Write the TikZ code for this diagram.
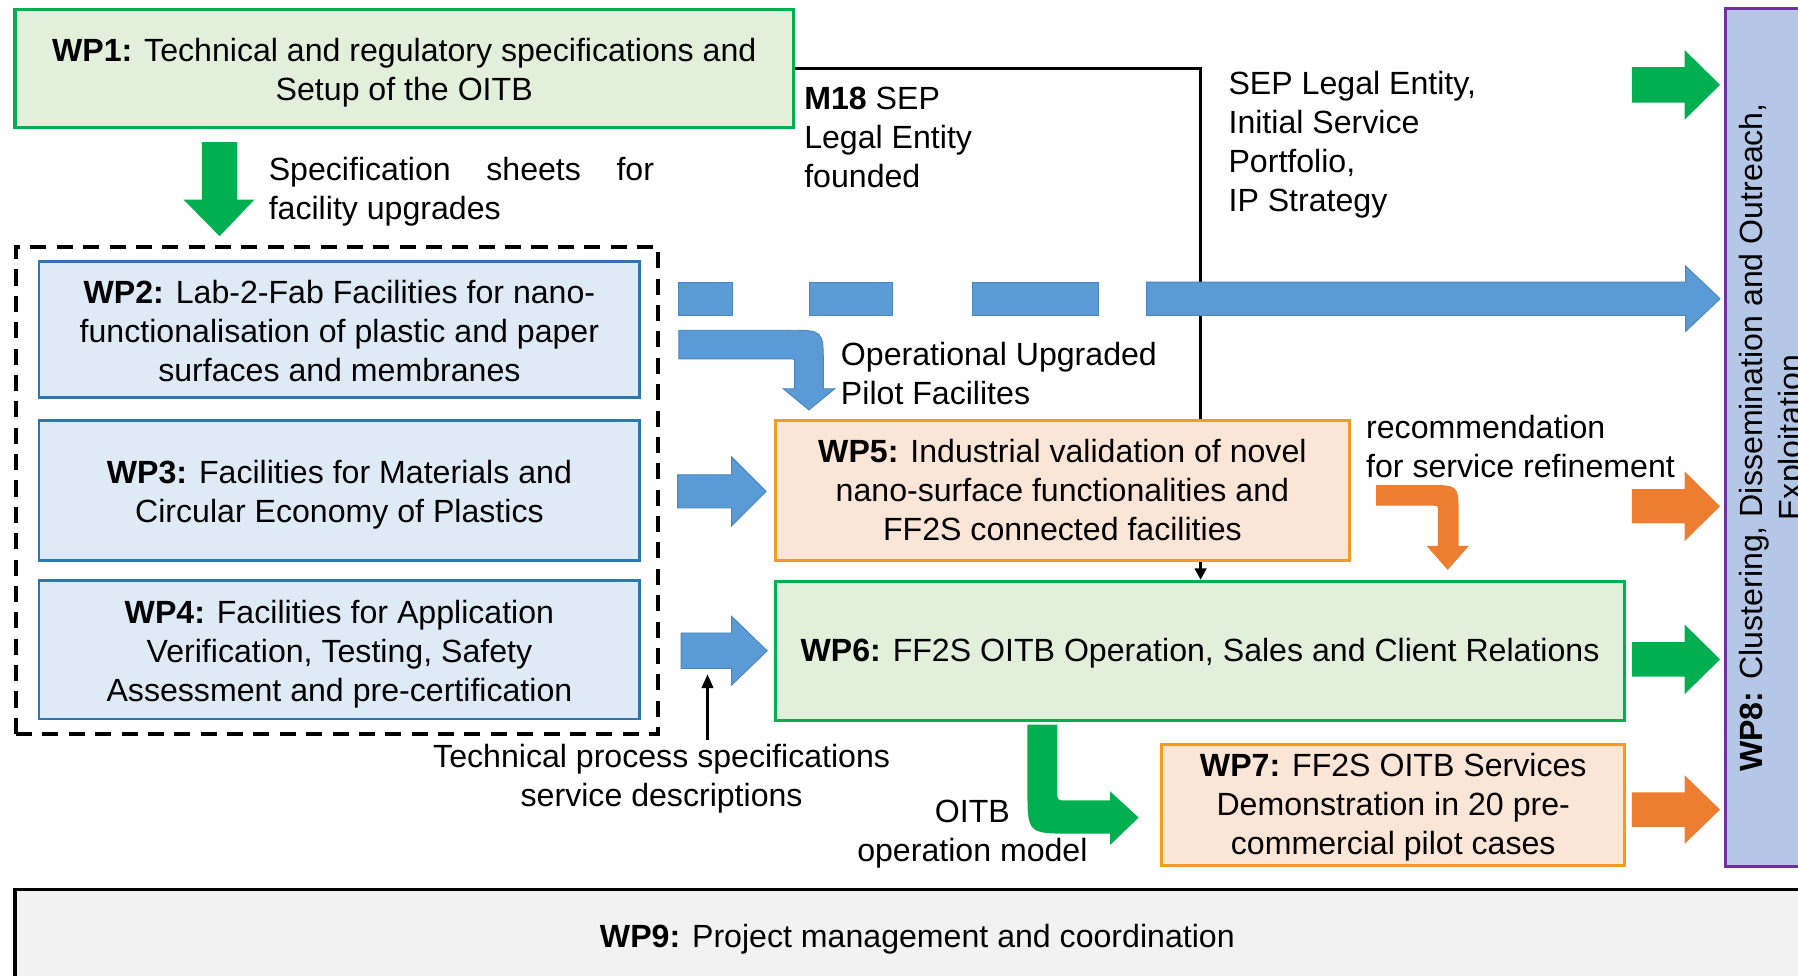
\documentclass[tikz,border=0pt]{standalone}
\usepackage{fontspec}
\setmainfont{Liberation Sans}
\usetikzlibrary{arrows.meta}
\definecolor{gBorder}{HTML}{00B050}
\definecolor{gFill}{HTML}{E2EFDA}
\definecolor{bBorder}{HTML}{2E75B6}
\definecolor{bFill}{HTML}{DEEBF7}
\definecolor{bArrow}{HTML}{5B9BD5}
\definecolor{bArrowLine}{HTML}{4A86C0}
\definecolor{oBorder}{HTML}{F59A23}
\definecolor{oFill}{HTML}{FBE5D6}
\definecolor{oArrow}{HTML}{ED7D31}
\definecolor{pBorder}{HTML}{7030A0}
\definecolor{pFill}{HTML}{B4C7E7}
\definecolor{grayFill}{HTML}{F2F2F2}
\newcommand{\RArrow}[7]{\path[#1] (#2,#5-#6) -- (#3,#5-#6) -- (#3,#5-#7) -- (#4,#5) -- (#3,#5+#7) -- (#3,#5+#6) -- (#2,#5+#6) -- cycle;}
\begin{document}
\begin{tikzpicture}[x=0.5pt,y=-0.5pt,
  every node/.style={font=\fontsize{14}{17}\selectfont, inner sep=0pt},
  wpbox/.style={draw, line width=1.4pt},
  greenbox/.style={wpbox, draw=gBorder, fill=gFill},
  bluebox/.style={wpbox, draw=bBorder, fill=bFill, line width=1.25pt},
  orangebox/.style={wpbox, draw=oBorder, fill=oFill, line width=1.25pt},
  purplebox/.style={wpbox, draw=pBorder, fill=pFill},
  graybox/.style={wpbox, draw=black, fill=grayFill},
  lbl/.style={align=left, anchor=west},
  clbl/.style={align=center},
  barrow/.style={fill=bArrow, draw=bArrowLine, line width=0.4pt},
  garrow/.style={fill=gBorder},
  oarrow/.style={fill=oArrow},
  conn/.style={draw=black, line width=1.3pt},
  thinconn/.style={draw=black, line width=1pt},
  groupbox/.style={draw=black, line width=1.5pt, dash pattern=on 7pt off 4.5pt},
]
\useasboundingbox (0,0) rectangle (1568,851);
\clip (0,0) rectangle (1568,851);

% WP9 and WP8 (partly outside the picture)
\node[graybox, minimum width=818.5pt, minimum height=62pt] (wp9) at (831.5,838) {};
\node[clbl] (wp9t) at (800,819) {\textbf{WP9:} Project management and coordination};
\node[purplebox, minimum width=47.5pt, minimum height=374pt] (wp8) at (1552.5,381.5) {};
\node[clbl, rotate=90] (wp8t) at (1547,381.5) {\textbf{WP8:} Clustering, Dissemination and Outreach,\\Exploitation};

% group box
\node[groupbox, minimum width=280pt, minimum height=212.25pt] (grp) at (294,427.75) {};

% WP boxes
\node[greenbox, minimum width=339.5pt, minimum height=51.5pt] (wp1) at (352.5,59.5) {};
\node[clbl] (wp1t) at (352.5,63) {\textbf{WP1:} Technical and regulatory specifications and\\Setup of the OITB};
\node[bluebox, minimum width=262pt, minimum height=59.5pt] (wp2) at (296,287.5) {};
\node[clbl] (wp2t) at (296,289) {\textbf{WP2:} Lab-2-Fab Facilities for nano-\\functionalisation of plastic and paper\\surfaces and membranes};
\node[bluebox, minimum width=262pt, minimum height=61pt] (wp3) at (296,428) {};
\node[clbl] (wp3t) at (296,431) {\textbf{WP3:} Facilities for Materials and\\Circular Economy of Plastics};
\node[bluebox, minimum width=262pt, minimum height=60.5pt] (wp4) at (296,566.5) {};
\node[clbl] (wp4t) at (296,570.5) {\textbf{WP4:} Facilities for Application\\Verification, Testing, Safety\\Assessment and pre-certification};
\node[orangebox, minimum width=250.5pt, minimum height=61pt] (wp5) at (926.5,428) {};
\node[clbl] (wp5t) at (926.5,427.5) {\textbf{WP5:} Industrial validation of novel\\nano-surface functionalities and\\FF2S connected facilities};
\node[greenbox, minimum width=370.5pt, minimum height=60.5pt] (wp6) at (1046.5,567.5) {};
\node[clbl] (wp6t) at (1046.5,569.5) {\textbf{WP6:} FF2S OITB Operation, Sales and Client Relations};
\node[orangebox, minimum width=202pt, minimum height=53pt] (wp7) at (1215,702) {};
\node[clbl] (wp7t) at (1215,704) {\textbf{WP7:} FF2S OITB Services\\Demonstration in 20 pre-\\commercial pilot cases};

% black connector WP1 -> WP6 (behind WP5)
\coordinate (corner) at (1047,59.5);
\draw[conn] (wp1.east) -- (corner) -- (corner |- wp5.north);
\draw[conn, -{Triangle[length=5pt,width=5pt]}] (corner |- wp5.south) -- (corner |- wp6.north);

% green down arrow WP1 -> group
\path[garrow] (176,124) -- (207,124) -- (207,174) -- (222,174) -- (191.5,206) -- (160,174) -- (176,174) -- cycle;

% long dashed blue arrow to WP8
\path[barrow] (592,246) rectangle (639,275);
\path[barrow] (706,246) rectangle (778,275);
\path[barrow] (848,246) rectangle (958,275);
\RArrow{barrow}{1000}{1470}{1500}{260.5}{14.5}{28.5}

% blue bent arrow WP2 -> WP5
\path[barrow] (592,288) -- (688,288) .. controls (718,288) .. (718,318) -- (718,339) -- (728,339) -- (705.5,357.5) -- (683,339) -- (693,339) -- (693,317) .. controls (693,313) .. (689,313) -- (592,313) -- cycle;

% blue arrows WP3 -> WP5, WP4 -> WP6
\RArrow{barrow}{591}{638}{668}{428.5}{14.5}{30}
\RArrow{barrow}{594}{638}{669}{567.5}{15.5}{30}

% orange bent arrow WP5 -> WP6
\path[oarrow] (1200,423) -- (1246,423) .. controls (1272,423) .. (1272,449) -- (1272,476) -- (1281,476) -- (1262.5,497) -- (1244,476) -- (1254,476) -- (1254,446) .. controls (1254,441) .. (1249,441) -- (1200,441) -- cycle;

% green bent arrow WP6 -> WP7
\path[garrow] (896,632) -- (922,632) -- (922,690) .. controls (922,698) .. (930,698) -- (968,698) -- (968,690) -- (993,713) -- (968,737) -- (968,727) -- (935,727) .. controls (896,727) .. (896,688) -- cycle;

% arrows into WP8
\RArrow{garrow}{1423}{1469}{1500}{74}{15.5}{30.5}
\RArrow{oarrow}{1423}{1469}{1500}{441.5}{15}{30.5}
\RArrow{garrow}{1423}{1469}{1500}{575}{15}{30.5}
\RArrow{oarrow}{1423}{1469}{1500}{706}{15}{30}

% labels
\node[lbl] (lblspec) at (234,167) {\makebox[168pt][s]{Specification\hfill sheets\hfill for}\\facility upgrades};
\node[lbl] (lblm18) at (701,120) {\textbf{M18} SEP\\Legal Entity\\founded};
\node[lbl] (lblsep) at (1071,126) {SEP Legal Entity,\\Initial Service\\Portfolio,\\IP Strategy};
\node[lbl] (lblop) at (733,326) {Operational Upgraded\\Pilot Facilites};
\node[lbl] (lblrec) at (1191,389) {recommendation\\for service refinement};
\node[clbl] (lbltps) at (577,679) {Technical process specifications\\service descriptions};
\node[clbl] (lbloitb) at (848,727) {OITB\\operation model};

% thin arrow from label up
\coordinate (tpstip) at (617,588);
\draw[thinconn, -{Triangle[length=6pt,width=5pt]}] (tpstip |- lbltps.north) ++(0,-3) -- (tpstip);
\end{tikzpicture}
\end{document}
